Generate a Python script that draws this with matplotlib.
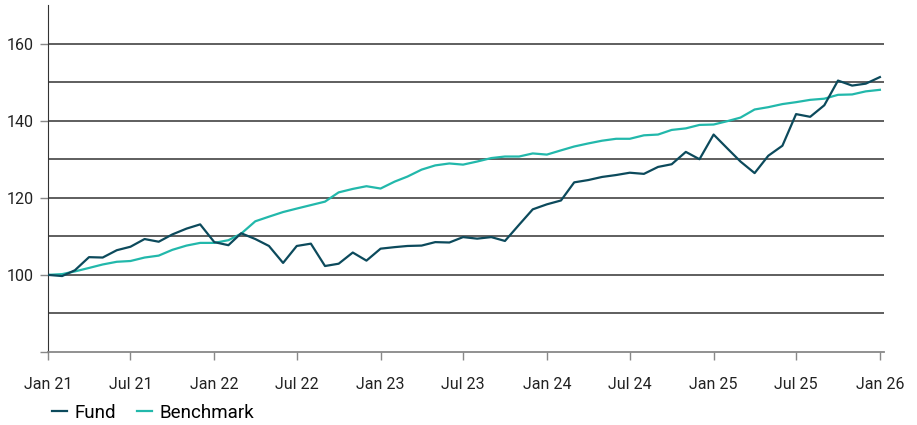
import numpy as np
import pandas as pd
import matplotlib
matplotlib.use("Agg")
import matplotlib.pyplot as plt
import matplotlib.dates as mdates
from matplotlib.lines import Line2D

plt.rcParams["font.family"] = ["Roboto", "DejaVu Sans"]

# monthly index values, Jan 2021 .. Jan 2026
datas = pd.date_range("2021-01-01", "2026-01-01", freq="MS")

fund = [100.0, 99.7, 101.2, 104.6, 104.5, 106.4, 107.3, 109.3, 108.6, 110.5,
        112.0, 113.1, 108.5, 107.7, 110.8, 109.3, 107.5, 103.1, 107.5, 108.1,
        102.3, 102.9, 105.8, 103.7, 106.8, 107.2, 107.5, 107.6, 108.5, 108.4,
        109.8, 109.4, 109.8, 108.8, 113.0, 117.0, 118.3, 119.3, 124.0, 124.6,
        125.4, 125.9, 126.5, 126.2, 128.0, 128.7, 131.9, 130.0, 136.4, 132.7,
        129.4, 126.4, 130.9, 133.5, 141.7, 141.0, 144.0, 150.4, 149.1, 149.6,
        151.3]

benchmark = [100.0, 100.2, 100.9, 101.8, 102.7, 103.4, 103.6, 104.5, 105.0, 106.5,
             107.6, 108.3, 108.3, 109.0, 110.7, 113.9, 115.1, 116.3, 117.2, 118.1,
             119.0, 121.4, 122.3, 123.0, 122.4, 124.2, 125.5, 127.3, 128.4, 128.9,
             128.6, 129.4, 130.3, 130.7, 130.7, 131.5, 131.2, 132.3, 133.3, 134.1,
             134.8, 135.3, 135.3, 136.2, 136.4, 137.6, 138.0, 138.9, 139.0, 139.9,
             140.8, 142.9, 143.5, 144.3, 144.8, 145.4, 145.7, 146.7, 146.8, 147.6,
             148.0]

cor_fund = "#0c4a5c"
cor_bench = "#22b8ab"

fig = plt.figure(figsize=(9.17, 4.25), dpi=100)
ax = fig.add_axes([48 / 917, 1 - 352 / 425, (884 - 48) / 917, (352 - 5) / 425])

for v in range(90, 170, 10):
    ax.axhline(v, color="#333333", linewidth=1.1, zorder=1)

ax.plot(datas, fund, color=cor_fund, linewidth=1.6, zorder=3)
ax.plot(datas, benchmark, color=cor_bench, linewidth=1.6, zorder=2)

ax.set_ylim(80, 170)
ax.set_yticks([80, 100, 120, 140, 160])
ax.set_yticklabels(["", "100", "120", "140", "160"])

inicio = mdates.date2num(datas[0])
fim = mdates.date2num(datas[-1])
ax.set_xlim(inicio, fim + 9)
ticks_x = pd.date_range("2021-01-01", "2026-01-01", freq="6MS")
ax.set_xticks(ticks_x)
ax.set_xticklabels([d.strftime("%b %y") for d in ticks_x])

for lado in ["top", "right"]:
    ax.spines[lado].set_visible(False)
ax.spines["left"].set_color("#333333")
ax.spines["bottom"].set_color("#888888")
ax.spines["bottom"].set_linewidth(1.3)

ax.tick_params(axis="y", length=6, width=1, color="#888888", pad=4,
               labelsize=11.5, labelcolor="#222222")
ax.tick_params(axis="x", length=6, width=1, color="#888888", pad=12,
               labelsize=11.5, labelcolor="#222222")

handles = [Line2D([], [], color=cor_fund, linewidth=1.6),
           Line2D([], [], color=cor_bench, linewidth=1.6)]
fig.legend(handles, ["Fund", "Benchmark"], loc="center left",
           bbox_to_anchor=(52 / 917, 1 - 413 / 425), ncol=2, frameon=False,
           fontsize=13.5, handlelength=0.8, handletextpad=0.4, columnspacing=1.1,
           borderaxespad=0, borderpad=0)

fig.savefig("out.png", dpi=100)
plt.close(fig)
